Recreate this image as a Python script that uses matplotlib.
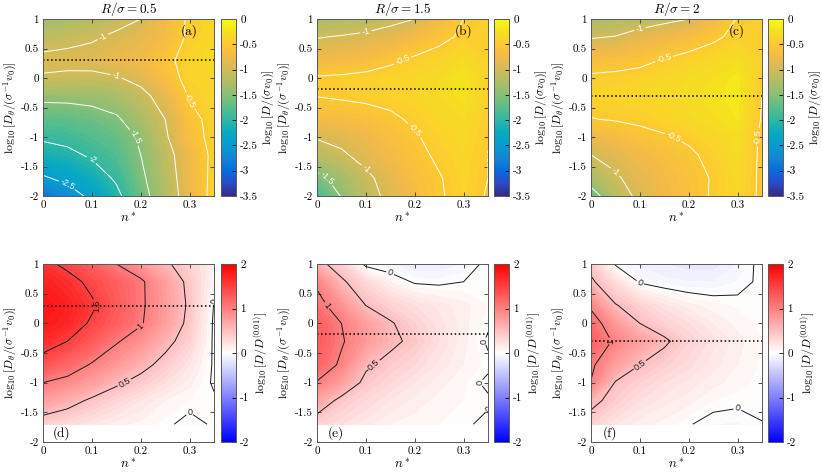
import numpy as np
import matplotlib
matplotlib.use('Agg')
import matplotlib.pyplot as plt
from matplotlib.colors import LinearSegmentedColormap, Normalize
from matplotlib.cm import ScalarMappable

plt.rcParams['font.family'] = 'cmr10'
plt.rcParams['mathtext.fontset'] = 'cm'
plt.rcParams['axes.unicode_minus'] = False
plt.rcParams['contour.negative_linestyle'] = 'solid'

# grids
n_star = [0, 0.05, 0.1, 0.15, 0.2, 0.25, 0.3, 0.35]
log_dtheta = [-2, -1.7, -1.3, -1, -0.7, -0.3, 0, 0.3, 0.7, 1]
log_dtheta_ratio = [-1.7, -1.3, -1, -0.7, -0.3, 0, 0.3, 0.7, 1]

radius = ['0.5', '1.5', '2']
optimal_dtheta = [0.3, -0.18, -0.3]
top_tags = ['(a)', '(b)', '(c)']
bottom_tags = ['(d)', '(e)', '(f)']

# log10[D/(sigma v0)], rows from log Dtheta = -2 up to 1
diff_a = [[-2.9, -2.7, -2.4, -2.1, -1.65, -1.25, -0.8, -0.38],
          [-2.55, -2.4, -2.2, -1.95, -1.58, -1.2, -0.78, -0.4],
          [-2.15, -2.08, -1.95, -1.8, -1.5, -1.15, -0.75, -0.42],
          [-1.95, -1.9, -1.8, -1.68, -1.45, -1.05, -0.65, -0.4],
          [-1.75, -1.72, -1.65, -1.55, -1.3, -1.0, -0.6, -0.4],
          [-1.4, -1.4, -1.38, -1.3, -1.1, -0.85, -0.47, -0.35],
          [-1.03, -1.07, -1.08, -1.03, -0.9, -0.65, -0.4, -0.35],
          [-0.92, -0.9, -0.88, -0.8, -0.72, -0.58, -0.38, -0.3],
          [-1.15, -1.1, -1.04, -0.95, -0.85, -0.7, -0.45, -0.35],
          [-1.38, -1.32, -1.22, -1.1, -1.0, -0.72, -0.45, -0.35]]
diff_b = [[-1.9, -1.48, -1.15, -0.9, -0.7, -0.53, -0.4, -0.52],
          [-1.6, -1.35, -1.08, -0.85, -0.65, -0.52, -0.38, -0.5],
          [-1.2, -1.05, -0.88, -0.72, -0.58, -0.45, -0.35, -0.5],
          [-0.97, -0.9, -0.78, -0.65, -0.53, -0.4, -0.32, -0.48],
          [-0.7, -0.68, -0.64, -0.56, -0.45, -0.35, -0.3, -0.45],
          [-0.49, -0.46, -0.43, -0.4, -0.36, -0.3, -0.22, -0.4],
          [-0.47, -0.45, -0.42, -0.38, -0.35, -0.3, -0.2, -0.38],
          [-0.75, -0.72, -0.65, -0.55, -0.45, -0.38, -0.3, -0.4],
          [-1.02, -0.98, -0.93, -0.85, -0.72, -0.58, -0.45, -0.4],
          [-1.32, -1.27, -1.2, -1.1, -1.0, -0.75, -0.5, -0.45]]
diff_c = [[-1.7, -1.18, -0.92, -0.75, -0.62, -0.47, -0.34, -0.55],
          [-1.3, -1.05, -0.85, -0.72, -0.6, -0.48, -0.33, -0.55],
          [-1.0, -0.88, -0.75, -0.65, -0.55, -0.42, -0.3, -0.55],
          [-0.8, -0.7, -0.6, -0.53, -0.45, -0.35, -0.27, -0.55],
          [-0.51, -0.48, -0.44, -0.38, -0.32, -0.26, -0.2, -0.52],
          [-0.38, -0.37, -0.35, -0.32, -0.28, -0.22, -0.17, -0.5],
          [-0.45, -0.43, -0.4, -0.35, -0.3, -0.25, -0.18, -0.47],
          [-0.65, -0.62, -0.57, -0.48, -0.4, -0.33, -0.28, -0.4],
          [-1.03, -0.99, -0.86, -0.78, -0.68, -0.56, -0.42, -0.4],
          [-1.32, -1.27, -1.17, -1.08, -1.0, -0.75, -0.48, -0.45]]

# log10[D/D^(0.01)], rows from log Dtheta = -1.7 up to 1
ratio_d = [[0.35, 0.28, 0.2, 0.12, 0.08, 0.03, -0.05, 0.02],
           [0.75, 0.62, 0.45, 0.32, 0.2, 0.1, 0.05, 0.02],
           [1.0, 0.9, 0.75, 0.55, 0.4, 0.25, 0.12, -0.02],
           [1.35, 1.18, 0.97, 0.8, 0.6, 0.4, 0.2, -0.02],
           [1.65, 1.5, 1.3, 1.03, 0.85, 0.6, 0.35, -0.03],
           [1.8, 1.7, 1.45, 1.25, 1.03, 0.75, 0.42, -0.03],
           [1.85, 1.75, 1.55, 1.3, 1.05, 0.78, 0.45, -0.01],
           [1.75, 1.62, 1.42, 1.25, 1.05, 0.75, 0.42, 0.05],
           [1.6, 1.42, 1.25, 1.0, 0.8, 0.55, 0.35, 0.1]]
ratio_e = [[0.35, 0.25, 0.17, 0.1, 0.07, 0.05, 0.02, -0.03],
           [0.7, 0.42, 0.3, 0.2, 0.13, 0.08, 0.05, 0.02],
           [0.98, 0.75, 0.42, 0.3, 0.2, 0.12, 0.06, -0.03],
           [1.2, 0.95, 0.55, 0.4, 0.3, 0.18, 0.1, 0.03],
           [1.3, 1.03, 0.8, 0.58, 0.42, 0.25, 0.12, -0.02],
           [1.25, 1.0, 0.75, 0.53, 0.35, 0.22, 0.12, 0.02],
           [1.1, 0.85, 0.5, 0.35, 0.25, 0.18, 0.12, 0.05],
           [0.95, 0.55, 0.3, 0.1, -0.02, -0.03, 0.0, 0.05],
           [0.6, 0.35, -0.05, -0.1, -0.15, -0.15, -0.1, 0.05]]
ratio_f = [[0.35, 0.2, 0.12, 0.08, 0.01, -0.05, -0.06, -0.005],
           [0.6, 0.38, 0.25, 0.17, 0.12, 0.05, 0.03, 0.03],
           [0.99, 0.48, 0.35, 0.25, 0.18, 0.12, 0.07, 0.03],
           [1.05, 0.75, 0.5, 0.37, 0.27, 0.17, 0.1, 0.04],
           [1.25, 0.95, 0.75, 0.55, 0.35, 0.22, 0.12, 0.05],
           [1.15, 0.8, 0.5, 0.35, 0.25, 0.15, 0.08, 0.03],
           [0.95, 0.52, 0.35, 0.22, 0.12, 0.07, 0.04, 0.03],
           [0.55, 0.25, -0.02, -0.08, -0.1, -0.1, -0.05, 0.03],
           [0.4, -0.02, -0.12, -0.15, -0.18, -0.18, -0.1, 0.05]]

diff_all = [diff_a, diff_b, diff_c]
ratio_all = [ratio_d, ratio_e, ratio_f]

parula = LinearSegmentedColormap.from_list('parula', [
    (0.2081, 0.1663, 0.5292), (0.1707, 0.2919, 0.7792), (0.0165, 0.4266, 0.8786),
    (0.0794, 0.5200, 0.8312), (0.0265, 0.6137, 0.8135), (0.0267, 0.6642, 0.7607),
    (0.1801, 0.7177, 0.6424), (0.3482, 0.7424, 0.5473), (0.5301, 0.7491, 0.4661),
    (0.6834, 0.7435, 0.4044), (0.8185, 0.7327, 0.3498), (0.9449, 0.7261, 0.2886),
    (0.9955, 0.7861, 0.1967), (0.9626, 0.8705, 0.1309), (0.9763, 0.9831, 0.0538)])

W, H = 822, 476


def px(l, t, w, h):
    return [l / W, 1 - (t + h) / H, w / W, h / H]


def style(ax):
    ax.set_xlim(0, 0.35)
    ax.set_ylim(-2, 1)
    ax.set_xticks([0, 0.1, 0.2, 0.3])
    ax.set_xticklabels(['0', '0.1', '0.2', '0.3'])
    ax.set_yticks([-2, -1.5, -1, -0.5, 0, 0.5, 1])
    ax.set_yticklabels(['-2', '-1.5', '-1', '-0.5', '0', '0.5', '1'])
    ax.tick_params(direction='in', top=True, right=True, labelsize=8,
                   length=3, width=0.6, color='0.2', pad=3)
    for s in ax.spines.values():
        s.set_color('0.35')
        s.set_linewidth(0.7)
    ax.set_xlabel('$n^*$', fontsize=9.5, labelpad=1)
    ax.set_ylabel(r'$\log_{10}[D_\theta/(\sigma^{-1}v_0)]$', fontsize=8.5, labelpad=1)


def add_cbar(fig, rect, cmap, vmin, vmax, ticks, label):
    cax = fig.add_axes(rect)
    sm = ScalarMappable(norm=Normalize(vmin, vmax), cmap=cmap)
    cb = fig.colorbar(sm, cax=cax, ticks=ticks)
    cb.ax.set_yticklabels(['%g' % t for t in ticks])
    cb.ax.tick_params(direction='in', labelsize=8, length=3, width=0.6, pad=3)
    cb.outline.set_edgecolor('0.35')
    cb.outline.set_linewidth(0.7)
    cb.set_label(label, fontsize=8.5, labelpad=2)


def label_lines(ax, cs, colour):
    for t in ax.clabel(cs, fmt='%g', fontsize=6.5, inline=True, inline_spacing=2, colors=colour):
        t.set_family('Liberation Sans')


fig = plt.figure(figsize=(W / 100, H / 100), dpi=100)
ax_left = [43, 317, 591]
cb_left = [221, 494, 768]

X, Y = np.meshgrid(n_star, log_dtheta)
Xr, Yr = np.meshgrid(n_star, log_dtheta_ratio)

for i in range(3):
    # top row: diffusion coefficient
    ax = fig.add_axes(px(ax_left[i], 19, 171, 177))
    Z = np.array(diff_all[i])
    ax.contourf(X, Y, Z, levels=np.linspace(-3.5, 0, 71), cmap=parula, vmin=-3.5, vmax=0)
    cs = ax.contour(X, Y, Z, levels=[-3, -2.5, -2, -1.5, -1, -0.5], colors='white', linewidths=0.7)
    label_lines(ax, cs, 'white')
    ax.axhline(optimal_dtheta[i], color='k', ls=':', lw=1.1)
    ax.text(0.855, 0.93, top_tags[i], transform=ax.transAxes, ha='center', va='center', fontsize=9.5)
    ax.set_title(r'$R/\sigma = %s$' % radius[i], fontsize=9.5, pad=4)
    style(ax)
    add_cbar(fig, px(cb_left[i], 19, 15, 177), parula, -3.5, 0,
             [-3.5, -3, -2.5, -2, -1.5, -1, -0.5, 0], r'$\log_{10}[D/(\sigma v_0)]$')

    # bottom row: ratio to D at Dtheta = 0.01
    ax = fig.add_axes(px(ax_left[i], 264, 171, 178))
    Z = np.array(ratio_all[i])
    ax.contourf(Xr, Yr, Z, levels=np.linspace(-2, 2, 81), cmap='bwr', vmin=-2, vmax=2)
    cs = ax.contour(Xr, Yr, Z, levels=[-1, -0.5, 0, 0.5, 1, 1.5], colors='0.1', linewidths=0.7)
    label_lines(ax, cs, '0.1')
    ax.axhline(optimal_dtheta[i], color='k', ls=':', lw=1.1)
    ax.text(0.11, 0.05, bottom_tags[i], transform=ax.transAxes, ha='center', va='center', fontsize=9.5)
    style(ax)
    add_cbar(fig, px(cb_left[i], 264, 15, 178), 'bwr', -2, 2,
             [-2, -1, 0, 1, 2], r'$\log_{10}[D/D^{(0.01)}]$')

fig.savefig('out.png', dpi=100)
